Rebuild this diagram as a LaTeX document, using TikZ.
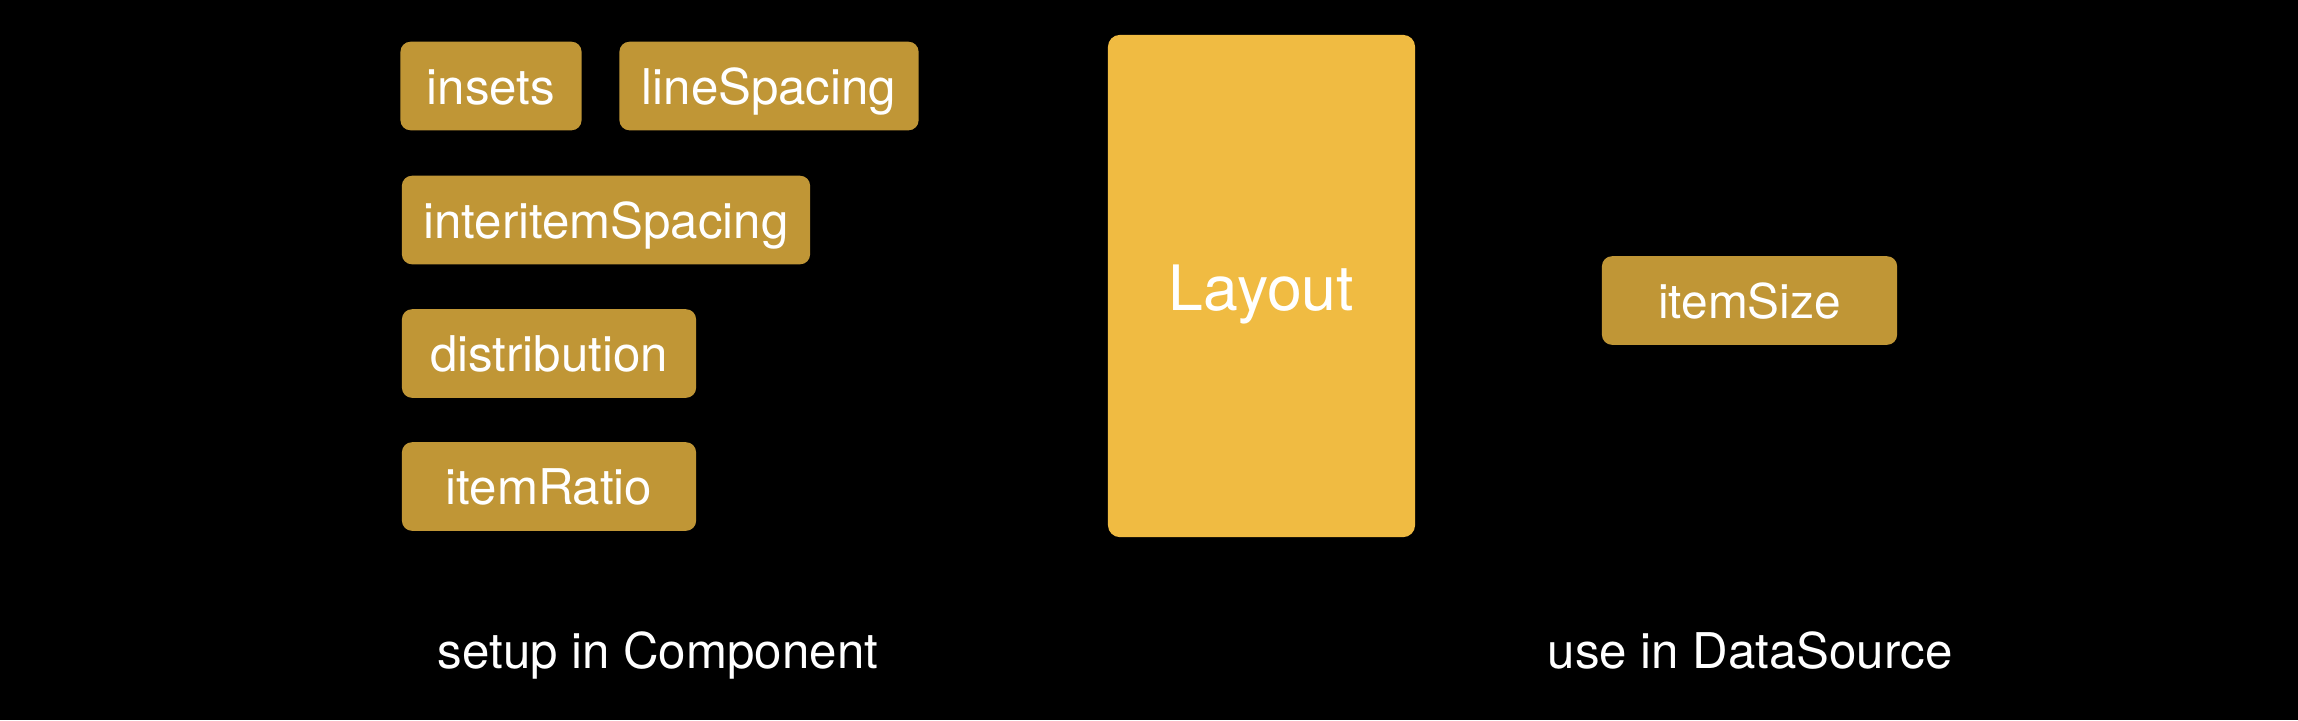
\documentclass[tikz,border=0pt]{standalone}
\usepackage{fontspec}
\setmainfont{TeX Gyre Heros}
\usepackage{xcolor}
\usepackage{tikz}

\definecolor{chipgold}{RGB}{192,150,54}
\definecolor{layoutgold}{RGB}{240,187,66}

\tikzset{
	chip/.style={fill=chipgold, rounded corners=0.1cm, text=white, inner sep=0pt,
		font=\fontsize{14}{16}\selectfont, text height=0.46cm, text depth=0.10cm,
		minimum height=0.885cm},
	caption/.style={text=white, inner sep=0pt, anchor=base,
		font=\fontsize{14}{16}\selectfont},
}

\begin{document}
\begin{tikzpicture}[x=0.01cm, y=-0.01cm]
		% ---- Canvas ----
		\fill[black] (0,0) rectangle (2298,720);
		\useasboundingbox (0,0) rectangle (2298,720);
		
		% ---- Component settings (left) ----
		\node[chip, minimum width=1.81cm] (insets) at (491,86) {insets};
		\node[chip, minimum width=2.99cm] (lineSpacing) at (769,86) {lineSpacing};
		\node[chip, minimum width=4.08cm] (interitem) at (606,220) {interitemSpacing};
		\node[chip, minimum width=2.94cm] (distribution) at (549,353.5) {distribution};
		\node[chip, minimum width=2.94cm] (itemRatio) at (549,486.5) {itemRatio};
		
		% ---- Layout block (middle) ----
		\node[fill=layoutgold, rounded corners=0.12cm, text=white, inner sep=0pt,
			minimum width=3.07cm, minimum height=5.02cm] (layout) at (1261.5,286) {};
		\node[text=white, inner sep=0pt, font=\fontsize{17.8}{20}\selectfont,
			text height=0.61cm, text depth=0.13cm] (layoutText) at (1261.5,286) {Layout};
		
		% ---- DataSource setting (right) ----
		\node[chip, minimum width=2.95cm, font=\fontsize{13.6}{16}\selectfont] (itemSize) at (1749.5,300.5) {itemSize};
		
		% ---- Captions ----
		\node[caption] (setupCap) at (658,668) {setup in Component};
		\node[caption] (useCap) at (1750,668) {use in DataSource};
		
	\end{tikzpicture}
\end{document}
